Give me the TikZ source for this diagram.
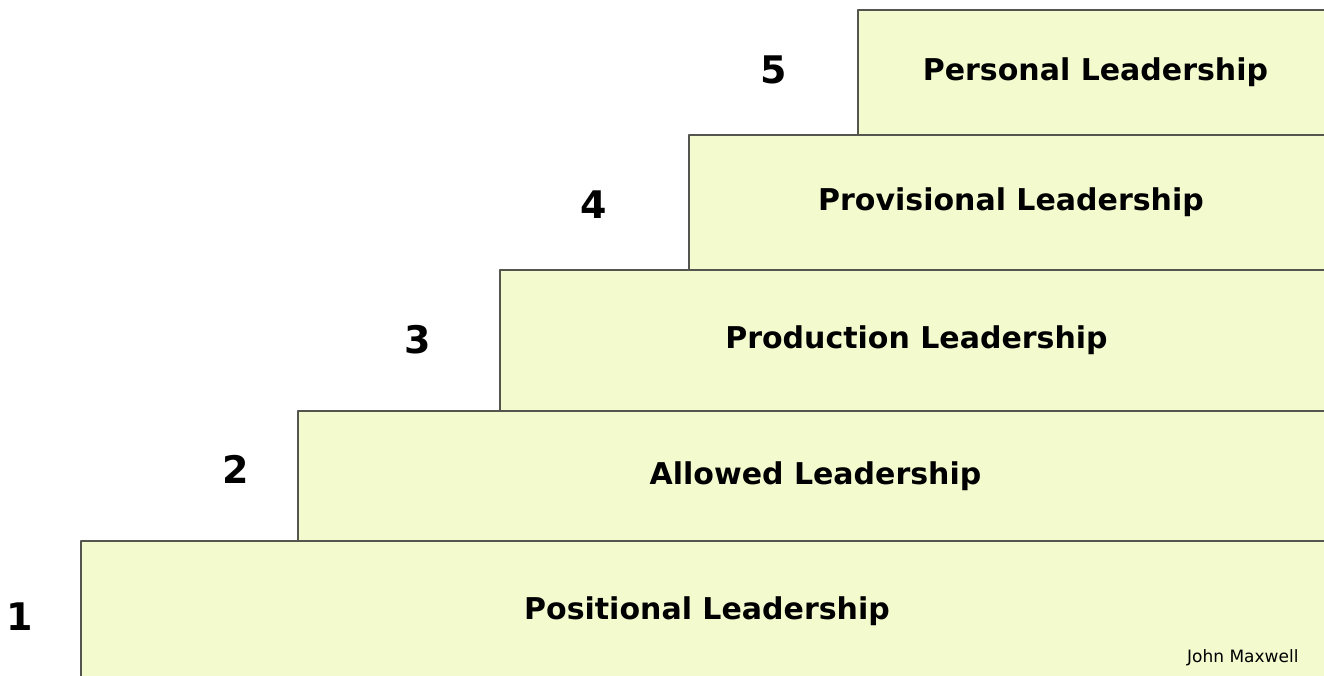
\documentclass[tikz,border=0pt]{standalone}
\usepackage{fontspec}
\setmainfont{DejaVu Sans}
\definecolor{stepfill}{RGB}{242,250,206}
\definecolor{stepline}{RGB}{85,85,80}
\begin{document}
\begin{tikzpicture}[x=1pt,y=-1pt,line join=round,
	stepbox/.style={draw=stepline,line width=1.9pt,fill=stepfill,anchor=north west,inner sep=0pt,font=\fontsize{30}{36}\selectfont\bfseries},
	stepnum/.style={font=\fontsize{38}{44}\selectfont\bfseries}]
	\useasboundingbox (0,0) rectangle (1324,675);
	\def\r{1332};
	% steps from the bottom up
	\foreach \n/\x/\y/\h/\t/\nx/\ny in {
		1/80/540/140/Positional Leadership/20/617,
		2/297/410/130/Allowed Leadership/236/469,
		3/499/269/141/Production Leadership/418/340,
		4/688/134/135/Provisional Leadership/594/205,
		5/857/9/125/Personal Leadership/774/70
	}{
		\node[stepbox,minimum width={\r-\x},minimum height=\h] (L\n) at (\x,\y) {\t};
		\node[stepnum] (N\n) at (\nx,\ny) {\n};
	}
	\node[anchor=base east,font=\fontsize{17}{20}\selectfont] (credit) at (1302,662) {John Maxwell};
\end{tikzpicture}
\end{document}
